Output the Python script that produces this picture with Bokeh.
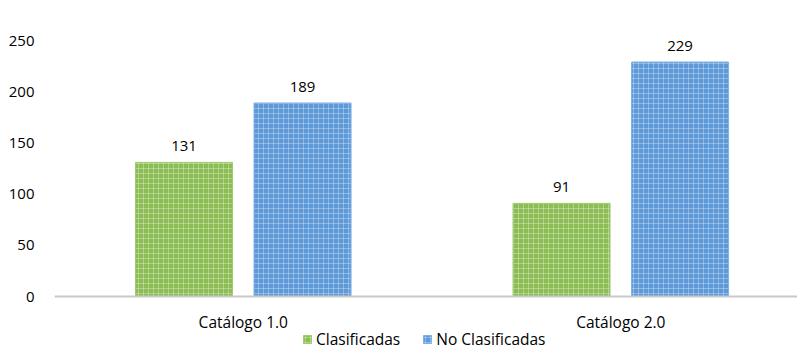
from bokeh.plotting import figure
from bokeh.models import ColumnDataSource, FixedTicker, Legend, LegendItem, Range1d, LabelSet, Span
from bokeh.core.properties import value
from bokeh.embed import file_html
from bokeh.resources import INLINE

categories = ["Catálogo 1.0", "Catálogo 2.0"]
series_names = ["Clasificadas", "No Clasificadas"]
clasificadas = [131, 91]
no_clasificadas = [189, 229]
y_ticks = [0, 50, 100, 150, 200, 250]

FONT = "Open Sans"
green = "#8cbd55"
blue = "#5f9ad8"

p = figure(width=797, height=353, output_backend="svg", toolbar_location=None,
           x_range=Range1d(0, 1.968), y_range=Range1d(-55.66, 259.8),
           min_border_left=54, min_border_right=0, min_border_top=30, min_border_bottom=0)
p.outline_line_color = None
p.grid.visible = False
p.xaxis.visible = False

xc = [i + 0.5 for i in range(len(categories))]
off = 0.157
w = 0.257
src_a = ColumnDataSource(dict(x=[c - off for c in xc], top=clasificadas, lbl=[str(v) for v in clasificadas]))
src_b = ColumnDataSource(dict(x=[c + off for c in xc], top=no_clasificadas, lbl=[str(v) for v in no_clasificadas]))

ra = p.vbar(x="x", top="top", width=w, source=src_a, fill_color=green, line_color="#9fca6e",
            hatch_pattern="cross", hatch_color="white", hatch_alpha=0.3, hatch_scale=5, hatch_weight=1)
rb = p.vbar(x="x", top="top", width=w, source=src_b, fill_color=blue, line_color="#7fb0e4",
            hatch_pattern="cross", hatch_color="white", hatch_alpha=0.3, hatch_scale=5, hatch_weight=1)

for s in (src_a, src_b):
    p.add_layout(LabelSet(x="x", y="top", text="lbl", source=s, text_align="center",
                          text_baseline="bottom", y_offset=11, text_font=value(FONT),
                          text_font_size="15px", text_color="#000000"))

# category axis (baseline + labels)
p.add_layout(Span(location=0, dimension="width", line_color="#c8c8c8", line_width=2))
cat_src = ColumnDataSource(dict(x=xc, y=[0] * len(xc), t=categories))
p.text(x="x", y="y", text="t", source=cat_src, text_align="center", text_baseline="middle",
       y_offset=25, text_font=value(FONT), text_font_size="15.5px", text_color="#000000")

p.yaxis.ticker = FixedTicker(ticks=y_ticks)
p.yaxis.axis_line_color = None
p.yaxis.major_tick_line_color = None
p.yaxis.minor_tick_line_color = None
p.yaxis.major_label_standoff = 14
p.yaxis.major_label_text_font = FONT
p.yaxis.major_label_text_font_size = "15px"
p.yaxis.major_label_text_color = "#000000"

legend = Legend(items=[LegendItem(label=series_names[0], renderers=[ra]),
                       LegendItem(label=series_names[1], renderers=[rb])],
                orientation="horizontal", location=(248, 3),
                border_line_color=None, background_fill_alpha=0,
                label_text_font=FONT, label_text_font_size="15.5px", label_text_color="#000000",
                glyph_width=10, glyph_height=10, spacing=22, padding=0, margin=0,
                label_standoff=4)
p.add_layout(legend, "center")

open("out.html", "w").write(file_html(p, INLINE))
